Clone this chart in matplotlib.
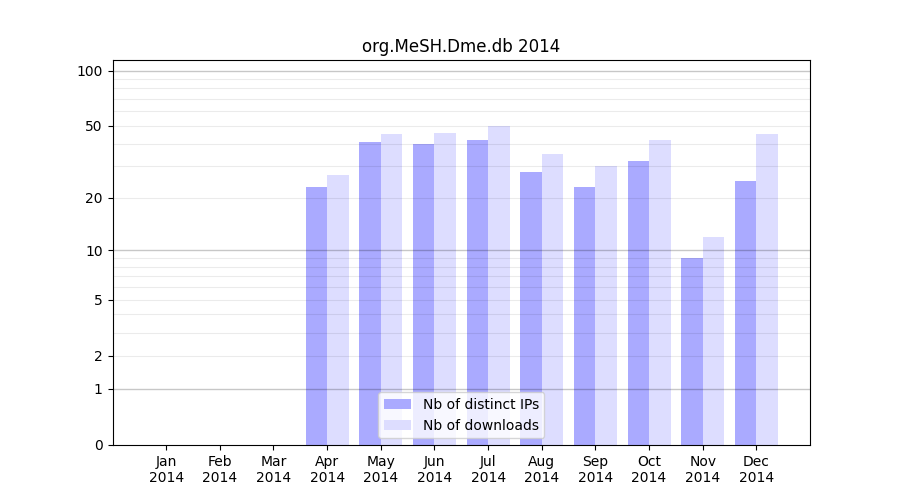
import matplotlib
matplotlib.use("Agg")
import matplotlib.pyplot as plt
import numpy as np

months = ["Jan\n2014", "Feb\n2014", "Mar\n2014", "Apr\n2014", "May\n2014", "Jun\n2014",
          "Jul\n2014", "Aug\n2014", "Sep\n2014", "Oct\n2014", "Nov\n2014", "Dec\n2014"]
ips = [0, 0, 0, 23, 41, 40, 42, 28, 23, 32, 9, 25]
downloads = [0, 0, 0, 27, 45, 46, 50, 35, 30, 42, 12, 45]

major = [1, 10, 100]
minor = [2, 3, 4, 5, 6, 7, 8, 9, 20, 30, 40, 50, 60, 70, 80, 90]
yticks = [0, 1, 2, 5, 10, 20, 50, 100]


def fwd(y):
    return np.log10(np.maximum(y, 0) + 1)


def inv(y):
    return 10 ** y - 1


fig, ax = plt.subplots(figsize=(9, 5), dpi=100)
x = np.arange(len(months))
ax.bar(x - 0.4, ips, width=0.4, align="edge", color="#aaaaff", label="Nb of distinct IPs", zorder=1)
ax.bar(x, downloads, width=0.4, align="edge", color="#ddddff", label="Nb of downloads", zorder=1)

ax.set_yscale("function", functions=(fwd, inv))
ax.set_ylim(0, 114)
ax.set_xlim(-1, 12)

# grille par-dessus les barres, semi-transparente
for v in minor:
    ax.axhline(v, color="black", alpha=0.08, lw=0.8, zorder=2)
for v in major:
    ax.axhline(v, color="black", alpha=0.22, lw=1.0, zorder=2)

ax.set_yticks(yticks)
ax.set_yticklabels([str(t) for t in yticks])
ax.yaxis.set_minor_locator(matplotlib.ticker.NullLocator())
ax.set_xticks(x)
ax.set_xticklabels(months)

ax.set_title("org.MeSH.Dme.db 2014")
ax.legend(loc="lower center")
fig.savefig("out.png")
